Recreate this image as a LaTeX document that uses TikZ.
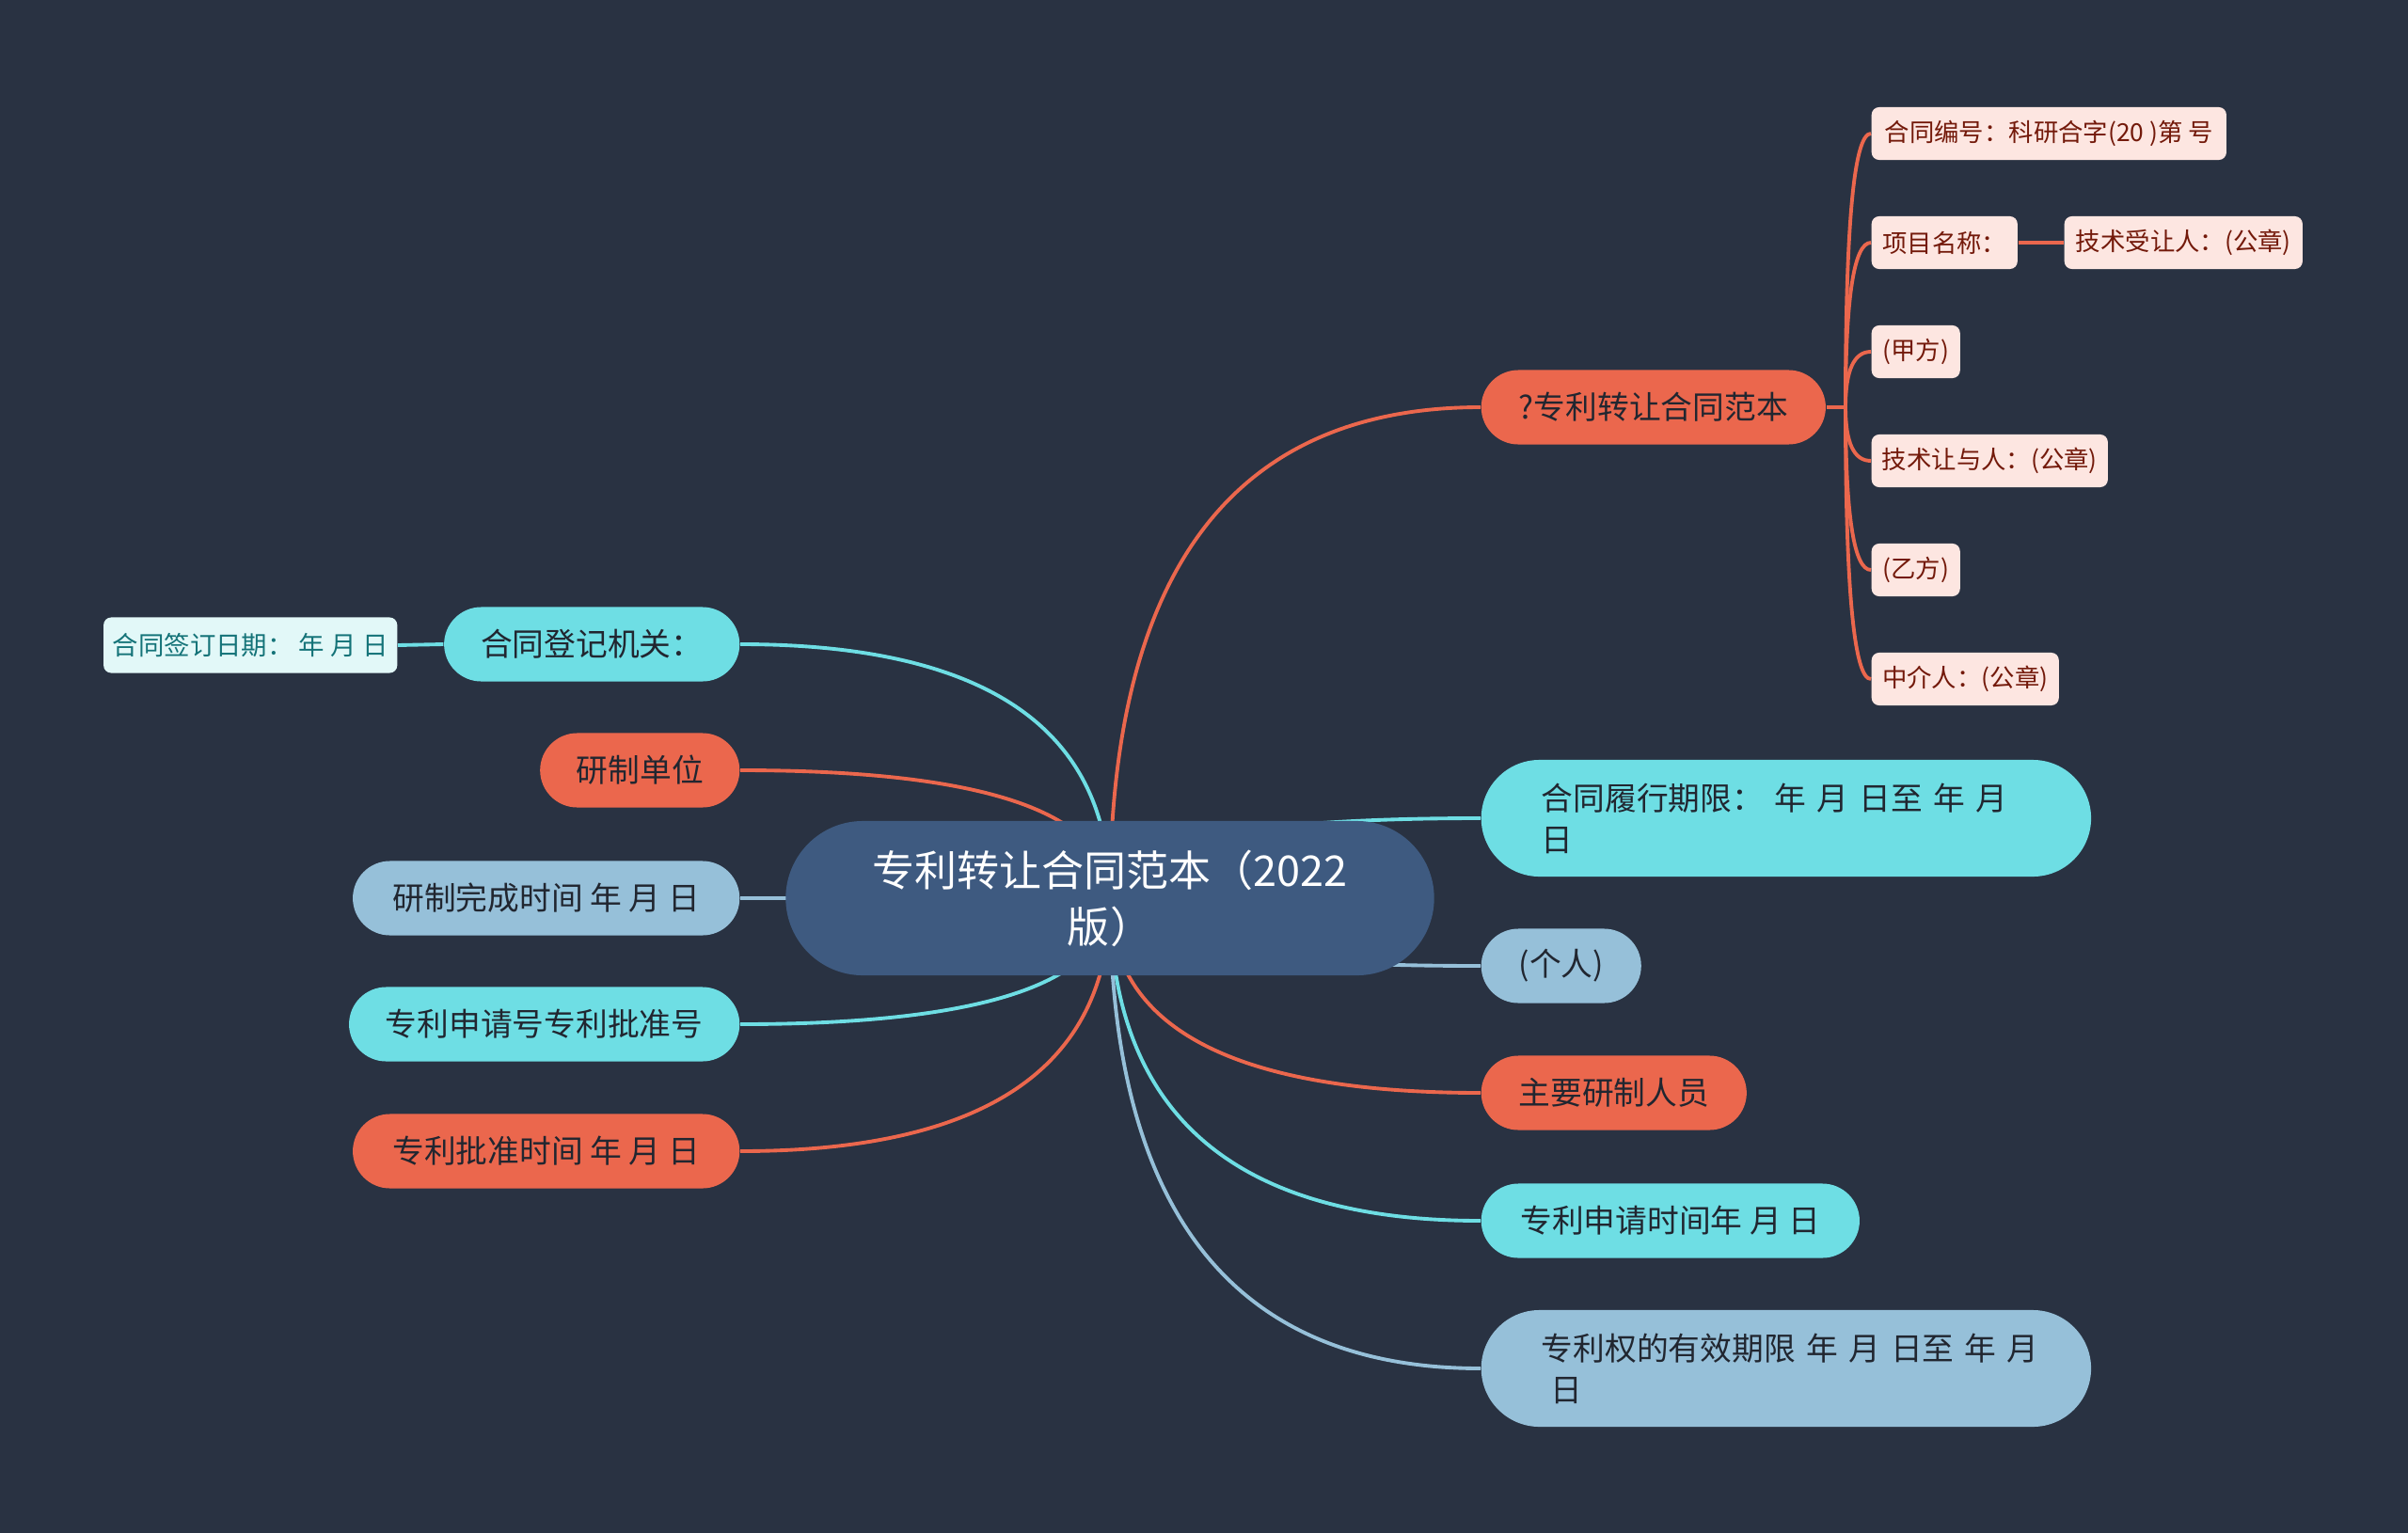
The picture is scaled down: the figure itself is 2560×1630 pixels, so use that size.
\documentclass[tikz,border=0pt]{standalone}
\usepackage{fontspec}
\setmainfont{Noto Sans CJK SC}
\usetikzlibrary{calc}
\definecolor{bgNavy}{RGB}{41,50,66}
\definecolor{rootBlue}{RGB}{62,90,128}
\definecolor{mapCyan}{RGB}{110,222,228}
\definecolor{mapOrange}{RGB}{235,103,77}
\definecolor{mapBlue}{RGB}{150,192,217}
\definecolor{leafPink}{RGB}{253,230,225}
\definecolor{leafRed}{RGB}{115,25,10}
\definecolor{leafCyan}{RGB}{226,248,248}
\definecolor{leafTeal}{RGB}{20,115,120}
\definecolor{inkDark}{RGB}{33,38,48}

\pgfdeclarelayer{bg}
\pgfdeclarelayer{edges}
\pgfsetlayers{bg,edges,main}

\tikzset{
    topic/.style={rounded corners=0.395cm, minimum height=0.79cm, inner sep=0pt,
        text=inkDark, font=\fontsize{9.6}{12.5}\selectfont},
    longtopic/.style={rounded corners=0.62cm, minimum height=1.24cm, inner xsep=0.64cm,
        inner ysep=0pt, text width=5.2cm, align=left, text=inkDark,
        font=\fontsize{9.6}{12.5}\selectfont},
    leaf/.style={rounded corners=0.08cm, minimum height=0.56cm, inner sep=0pt,
        fill=leafPink, text=leafRed, font=\fontsize{7.5}{9}\selectfont},
    branch/.style={to path={.. controls ($(\tikztostart)!2/3!(\tikztostart |- \tikztotarget)$)
        and ($(\tikztotarget)!2/3!(\tikztostart |- \tikztotarget)$) .. (\tikztotarget)}},
    link/.style={line width=1.1pt}
}

\begin{document}
\begin{tikzpicture}[x=0.01cm, y=-0.01cm]
        \begin{pgfonlayer}{bg}
            \fill[bgNavy] (0,0) rectangle (2560,1630);
        \end{pgfonlayer}
        \useasboundingbox (0,0) rectangle (2560,1630);

        % root
        \node[fill=rootBlue, text=white, rounded corners=0.82cm, minimum width=6.89cm,
            minimum height=1.64cm, align=center, font=\fontsize{12.8}{17}\selectfont]
            (root) at (1180,955) {专利转让合同范本（2022\\版）};

        % right side
        \node[topic, fill=mapOrange, anchor=west, minimum width=3.66cm] (patent) at (1574,433) {?专利转让合同范本};
        \node[longtopic, fill=mapCyan, anchor=west] (term) at (1574,870) {\mbox{合同履行期限： 年 月 日至 年 月}\\日};
        \node[topic, fill=mapBlue, anchor=west, minimum width=1.70cm] (person) at (1574,1027) {(个人)};
        \node[topic, fill=mapOrange, anchor=west, minimum width=2.82cm] (staff) at (1574,1162) {主要研制人员};
        \node[topic, fill=mapCyan, anchor=west, minimum width=4.02cm] (filing) at (1574,1298) {专利申请时间年 月 日};
        \node[longtopic, fill=mapBlue, anchor=west] (validity) at (1574,1455) {\mbox{专利权的有效期限 年 月 日至 年 月}\\\hspace{0.3em}日};

        % left side
        \node[topic, fill=mapCyan, anchor=east, minimum width=3.14cm] (register) at (787,685) {合同登记机关：};
        \node[leaf, fill=leafCyan, text=leafTeal, anchor=east, minimum width=3.12cm, minimum height=0.59cm,
            font=\fontsize{7.8}{9}\selectfont] (signdate) at (423,686) {合同签订日期： 年 月 日};
        \node[topic, fill=mapOrange, anchor=east, minimum width=2.12cm] (developer) at (787,819) {研制单位};
        \node[topic, fill=mapBlue, anchor=east, minimum width=4.11cm] (finish) at (787,955) {研制完成时间 年 月 日};
        \node[topic, fill=mapCyan, anchor=east, minimum width=4.15cm] (appno) at (787,1089) {专利申请号专利批准号};
        \node[topic, fill=mapOrange, anchor=east, minimum width=4.11cm] (grant) at (787,1224) {专利批准时间 年 月 日};

        % leaves of the patent topic
        \node[leaf, anchor=west, minimum width=3.77cm] (code) at (1989,142) {合同编号：科研合字(20 )第 号};
        \node[leaf, anchor=west, minimum width=1.55cm] (project) at (1989,258) {项目名称：};
        \node[leaf, anchor=west, minimum width=2.53cm] (assignee) at (2194,258) {技术受让人：(公章)};
        \node[leaf, anchor=west, minimum width=0.94cm] (partyA) at (1989,374) {(甲方)};
        \node[leaf, anchor=west, minimum width=2.51cm] (assignor) at (1989,490) {技术让与人：(公章)};
        \node[leaf, anchor=west, minimum width=0.94cm] (partyB) at (1989,606) {(乙方)};
        \node[leaf, anchor=west, minimum width=1.99cm] (agent) at (1989,722) {中介人：(公章)};
        \coordinate (fork) at (1962,433);

        \begin{pgfonlayer}{edges}
            \draw[link, mapOrange] (root.center) to[branch] (patent.west);
            \draw[link, mapCyan] (root.center) to[branch] (term.west);
            \draw[link, mapBlue] (root.center) to[branch] (person.west);
            \draw[link, mapOrange] (root.center) to[branch] (staff.west);
            \draw[link, mapCyan] (root.center) to[branch] (filing.west);
            \draw[link, mapBlue] (root.center) to[branch] (validity.west);
            \draw[link, mapCyan] (root.center) to[branch] (register.east);
            \draw[link, mapOrange] (root.center) to[branch] (developer.east);
            \draw[link, mapBlue] (root.center) to[branch] (finish.east);
            \draw[link, mapCyan] (root.center) to[branch] (appno.east);
            \draw[link, mapOrange] (root.center) to[branch] (grant.east);
            \draw[link, mapCyan] (register.west) -- (signdate.east);
            % patent leaves
            \draw[link, mapOrange] (patent.east) -- (fork);
            \draw[link, mapOrange] (fork) to[branch] (code.west);
            \draw[link, mapOrange] (fork) to[branch] (project.west);
            \draw[link, mapOrange] (fork) to[branch] (partyA.west);
            \draw[link, mapOrange] (fork) to[branch] (assignor.west);
            \draw[link, mapOrange] (fork) to[branch] (partyB.west);
            \draw[link, mapOrange] (fork) to[branch] (agent.west);
            \draw[link, mapOrange] (project.east) -- (assignee.west);
        \end{pgfonlayer}
    \end{tikzpicture}
\end{document}
